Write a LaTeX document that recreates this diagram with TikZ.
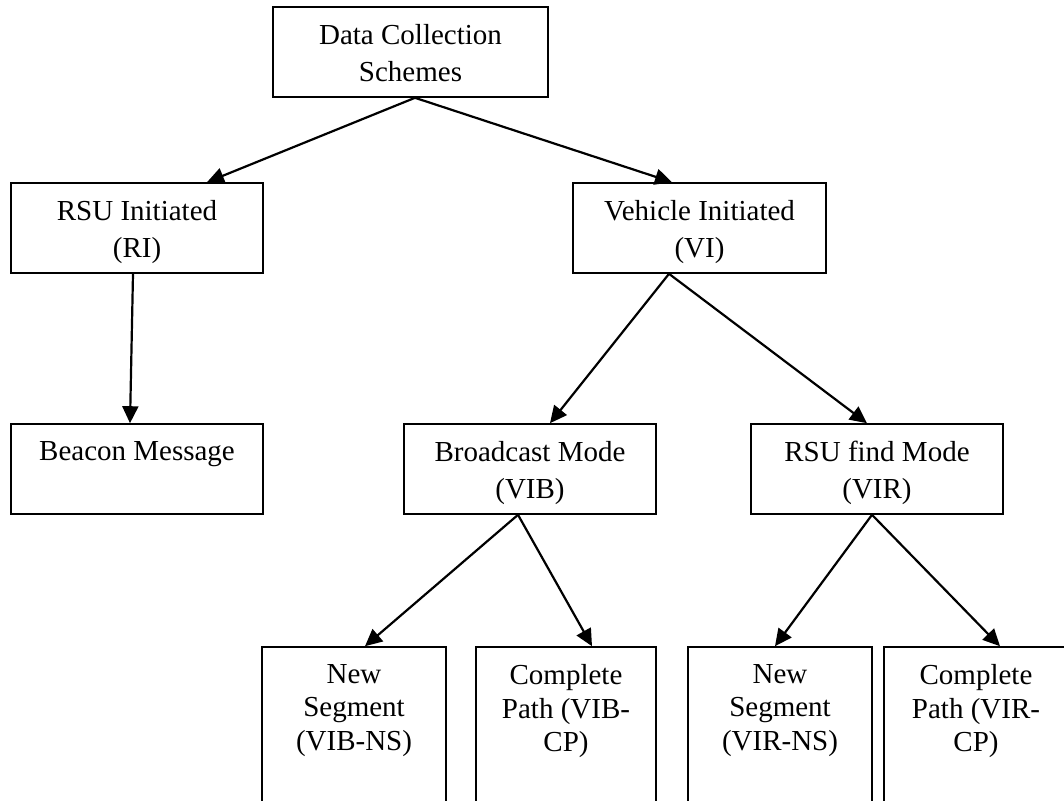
\documentclass[tikz,border=0pt]{standalone}
\usepackage{fontspec}
\setmainfont{Liberation Serif}
\usetikzlibrary{arrows.meta}
\begin{document}
\begin{tikzpicture}[x=1pt,y=-1pt,
  box/.style={draw, line width=1.6pt, rectangle, inner sep=0pt},
  upbox/.style={box, minimum width=252pt, minimum height=90pt},
  lowbox/.style={box, minimum width=184pt, minimum height=200pt},
  lbl/.style={anchor=north, inner sep=0pt, align=center, font=\fontsize{29}{37}\selectfont},
  lbls/.style={lbl, font=\fontsize{29}{33.5}\selectfont},
  arr/.style={line width=2.2pt, -{Triangle[length=17pt,width=16pt]}}]
\useasboundingbox (0,0) rectangle (1064,800);
\clip (0,0) rectangle (1064,800);
\fill[white] (0,0) rectangle (1064,800);
% boxes
\node[box, minimum width=275pt, minimum height=90pt] (dcs) at (410.5,52) {};
\node[upbox] (ri) at (137,228) {};
\node[upbox, minimum width=253pt] (vi) at (699.5,228) {};
\node[upbox] (bm) at (137,469) {};
\node[upbox] (vib) at (530,469) {};
\node[upbox] (vir) at (877,469) {};
\node[lowbox] (vibns) at (354,747) {};
\node[lowbox, minimum width=180pt] (vibcp) at (566,747) {};
\node[lowbox] (virns) at (780,747) {};
\node[lowbox] (vircp) at (976,747) {};
% labels
\node[lbl] (tdcs) at ([yshift=-18pt]dcs.north) {Data Collection\\Schemes};
\node[lbl] (tri) at ([yshift=-18pt]ri.north) {RSU Initiated\\(RI)};
\node[lbl] (tvi) at ([yshift=-18pt]vi.north) {Vehicle Initiated\\(VI)};
\node[lbl] (tbm) at ([yshift=-18pt]bm.north) {Beacon Message};
\node[lbl] (tvib) at ([yshift=-18pt]vib.north) {Broadcast Mode\\(VIB)};
\node[lbl] (tvir) at ([yshift=-18pt]vir.north) {RSU find Mode\\(VIR)};
\node[lbls] (tvibns) at ([yshift=-18pt]vibns.north) {New\\Segment\\(VIB-NS)};
\node[lbls] (tvibcp) at ([yshift=-18pt]vibcp.north) {Complete\\Path (VIB-\\CP)};
\node[lbls] (tvirns) at ([yshift=-18pt]virns.north) {New\\Segment\\(VIR-NS)};
\node[lbls] (tvircp) at ([yshift=-18pt]vircp.north) {Complete\\Path (VIR-\\CP)};
% connectors
\draw[arr] ([xshift=4.5pt]dcs.south) -- ([xshift=70pt]ri.north);
\draw[arr] ([xshift=4.5pt]dcs.south) -- ([xshift=-27.5pt]vi.north);
\draw[arr] ([xshift=-4pt]ri.south) -- ([xshift=-7pt]bm.north);
\draw[arr] ([xshift=-30.5pt]vi.south) -- ([xshift=20pt]vib.north);
\draw[arr] ([xshift=-30.5pt]vi.south) -- ([xshift=-10pt]vir.north);
\draw[arr] ([xshift=-12pt]vib.south) -- ([xshift=11pt]vibns.north);
\draw[arr] ([xshift=-12pt]vib.south) -- ([xshift=26pt]vibcp.north);
\draw[arr] ([xshift=-5pt]vir.south) -- ([xshift=-5pt]virns.north);
\draw[arr] ([xshift=-5pt]vir.south) -- ([xshift=24pt]vircp.north);
\end{tikzpicture}
\end{document}
